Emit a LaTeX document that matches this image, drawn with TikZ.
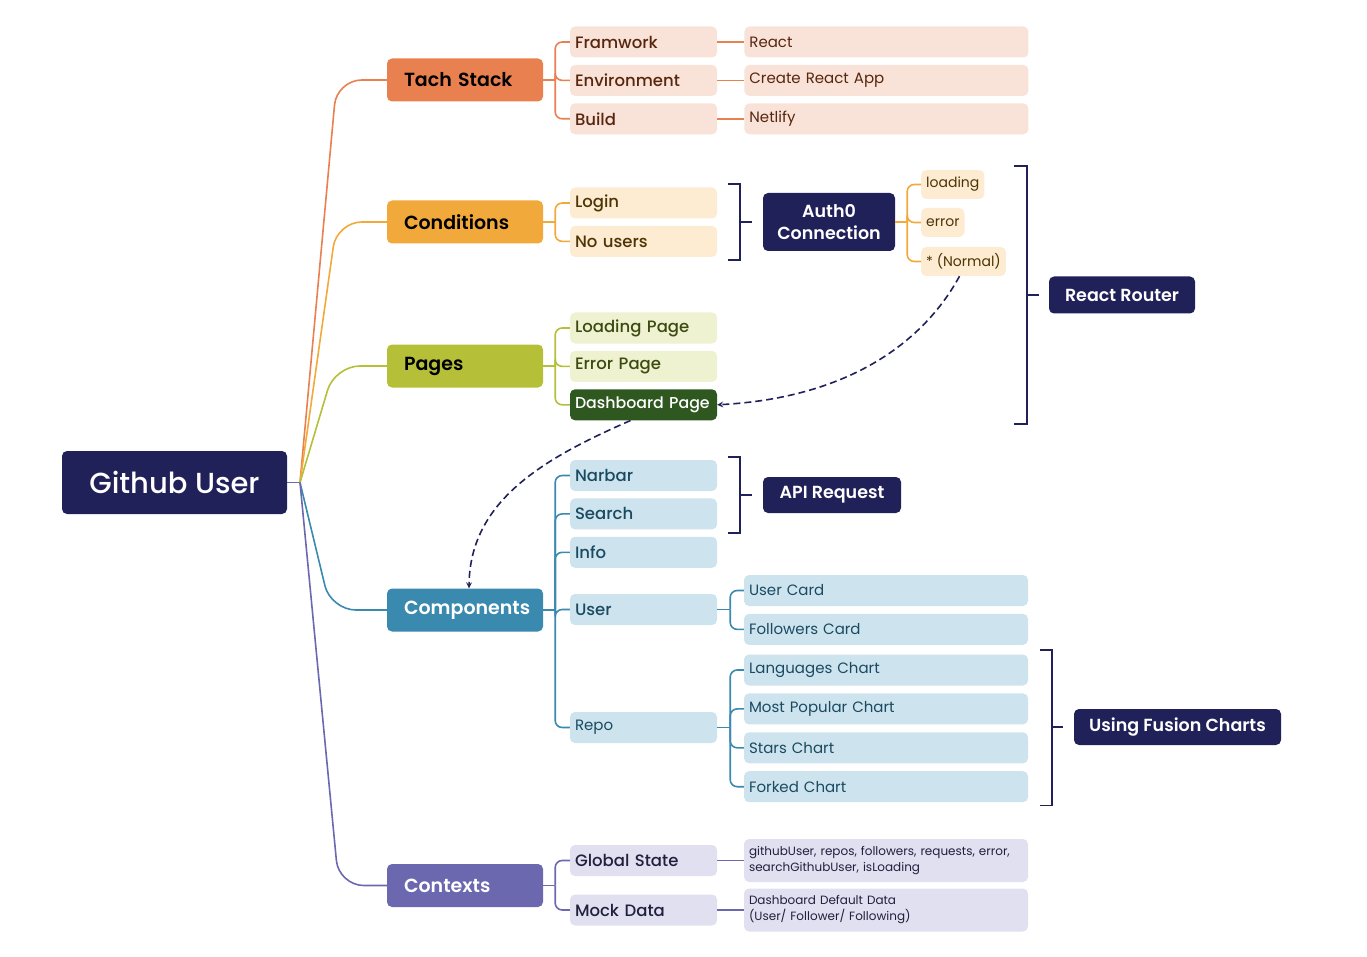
\documentclass[tikz,border=0pt]{standalone}
\usepackage{fontspec}
\setmainfont{Poppins}
\newfontfamily\medfont{Poppins}[UprightFont=* Medium]
\newfontfamily\semifont{Poppins}[UprightFont=* SemiBold]
\usetikzlibrary{positioning}

\definecolor{navy}{RGB}{33,33,90}
\definecolor{tachc}{RGB}{232,128,80}
\definecolor{tachl}{RGB}{249,227,216}
\definecolor{tacht}{RGB}{88,38,14}
\definecolor{condc}{RGB}{242,169,59}
\definecolor{condl}{RGB}{253,236,210}
\definecolor{condt}{RGB}{78,52,5}
\definecolor{pagec}{RGB}{181,191,56}
\definecolor{pagel}{RGB}{238,242,208}
\definecolor{paget}{RGB}{60,74,18}
\definecolor{pagedk}{RGB}{46,88,32}
\definecolor{compc}{RGB}{58,137,174}
\definecolor{compl}{RGB}{205,228,238}
\definecolor{compt}{RGB}{26,74,98}
\definecolor{ctxc}{RGB}{108,104,176}
\definecolor{ctxl}{RGB}{225,224,240}
\definecolor{ctxt}{RGB}{32,32,62}

\tikzset{
  box/.style={rounded corners=5pt, inner sep=0pt},
  rootbox/.style={box, fill=navy, text=white, minimum width=225pt, minimum height=63pt, font=\medfont\fontsize{29}{34}\selectfont},
  mainbox/.style={box, minimum height=43pt, text width=122pt, inner xsep=17pt, align=left, font=\semifont\fontsize{19}{22}\selectfont},
  sub/.style={box, minimum height=31pt, text width=137pt, inner xsep=5pt, align=left, font=\medfont\fontsize{16.5}{20}\selectfont},
  leaf/.style={box, minimum height=31pt, text width=274pt, inner xsep=5pt, align=left, font=\fontsize{15}{18}\selectfont},
  tag/.style={box, minimum height=29pt, inner xsep=5pt, fill=condl, text=condt, font=\fontsize{14}{17}\selectfont},
  navybox/.style={box, fill=navy, text=white, align=center, font=\semifont\fontsize{17.5}{22}\selectfont},
  tachsub/.style={sub, fill=tachl, text=tacht},
  tachleaf/.style={leaf, fill=tachl, text=tacht},
  condsub/.style={sub, fill=condl, text=condt},
  pagesub/.style={sub, fill=pagel, text=paget},
  compsub/.style={sub, fill=compl, text=compt},
  compleaf/.style={leaf, fill=compl, text=compt},
  ctxsub/.style={sub, fill=ctxl, text=ctxt},
  ctxleaf/.style={leaf, minimum height=43pt, fill=ctxl, text=ctxt, font=\fontsize{12}{16}\selectfont},
  trunk/.style={line width=1.6pt, rounded corners=25pt},
  twig/.style={line width=1.6pt, rounded corners=7pt},
  brak/.style={navy, line width=1.8pt},
  jump/.style={navy, line width=1.6pt, dash pattern=on 7pt off 4pt, -stealth},
}

\begin{document}
\begin{tikzpicture}[x=1pt,y=-1pt]
\useasboundingbox (0,0) rectangle (1367,957);

\node[rootbox] (gu) at (174.5,482.5) {Github User};
\coordinate (gj) at (300,482.5);

\node[mainbox, fill=tachc] (tach) at (465,80) {Tach Stack};
\node[mainbox, fill=condc] (cond) at (465,222) {Conditions};
\node[mainbox, fill=pagec] (pages) at (465,366) {Pages};
\node[mainbox, fill=compc, text=white] (comp) at (465,610) {Components};
\node[mainbox, fill=ctxc, text=white] (ctx) at (465,885.5) {Contexts};

\draw[ctxc, line width=1.6pt] (gu.east) -- (gj);
\draw[trunk, tachc] (gj) -- ([xshift=-50pt]tach.west) -- (tach.west);
\draw[trunk, condc] (gj) -- ([xshift=-50pt]cond.west) -- (cond.west);
\draw[trunk, pagec] (gj) -- ([xshift=-52pt]pages.west) -- (pages.west);
\draw[trunk, compc] (gj) -- ([xshift=-56pt]comp.west) -- (comp.west);
\draw[trunk, ctxc] (gj) -- ([xshift=-48pt]ctx.west) -- (ctx.west);

% tach stack
\node[tachsub] (fw) at (643.5,42) {Framwork};
\node[tachsub, below=7pt of fw] (env) {Environment};
\node[tachsub, below=7pt of env] (build) {Build};
\node[tachleaf, right=27pt of fw] (react) {React};
\node[tachleaf, right=27pt of env] (cra) {Create React App};
\node[tachleaf, right=27pt of build] (netl) {Netlify};
\coordinate (tj) at ([xshift=12pt]tach.east);
\draw[twig, tachc] (tach.east) -- (tj);
\foreach \n in {fw,env,build} \draw[twig, tachc] (tj) |- (\n.west);
\foreach \a/\b in {fw/react,env/cra,build/netl} \draw[twig, tachc] (\a.east) -- (\b.west);

% conditions
\node[condsub] (login) at (643.5,203) {Login};
\node[condsub, below=7pt of login] (nous) {No users};
\coordinate (cj) at ([xshift=12pt]cond.east);
\draw[twig, condc] (cond.east) -- (cj);
\foreach \n in {login,nous} \draw[twig, condc] (cj) |- (\n.west);
\draw[brak] ([xshift=11pt,yshift=3pt]login.north east) -| ([xshift=23pt,yshift=-3pt]nous.south east) -- ([xshift=11pt,yshift=-3pt]nous.south east);

\node[navybox, minimum width=132pt, minimum height=58pt] (auth) at (829,222) {Auth0\\Connection};
\draw[brak] (auth.west) ++(-11,0) -- ++(-12,0);
\node[tag, anchor=west] (ld) at (921,184.5) {loading};
\node[tag, anchor=west] (er) at (921,222.5) {error};
\node[tag, anchor=west] (nm) at (921,261.5) {* (Normal)};
\coordinate (aj) at ([xshift=12pt]auth.east);
\draw[twig, condc] (auth.east) -- (aj);
\foreach \n in {ld,er,nm} \draw[twig, condc] (aj) |- (\n.west);

\node[navybox, minimum width=146pt, minimum height=37pt] (rr) at (1122,295) {React Router};
\draw[brak] (1014,166) -- (1027,166) -- (1027,424) -- (1014,424);
\draw[brak] (rr.west) ++(-10,0) -- ++(-12,0);

% pages
\node[pagesub] (lp) at (643.5,328) {Loading Page};
\node[pagesub, below=7pt of lp] (ep) {Error Page};
\node[pagesub, below=7pt of ep, fill=pagedk, text=white, font=\medfont\fontsize{15.8}{20}\selectfont] (dp) {Dashboard Page};
\coordinate (pj) at ([xshift=12pt]pages.east);
\draw[twig, pagec] (pages.east) -- (pj);
\foreach \n in {lp,ep,dp} \draw[twig, pagec] (pj) |- (\n.west);

\draw[jump] ([xshift=-4pt]nm.south) .. controls (922,345) and (845,398) .. (dp.east);
\draw[jump] ([xshift=-13pt]dp.south) .. controls (545,458) and (470,500) .. ([xshift=4pt]comp.north);

% components
\node[compsub] (nb) at (643.5,475.5) {Narbar};
\node[compsub, below=7pt of nb] (sr) {Search};
\node[compsub, below=7pt of sr] (inf) {Info};
\node[compsub] (us) at (643.5,609.5) {User};
\node[compsub, font=\fontsize{15}{18}\selectfont] (repo) at (643.5,727.5) {Repo};
\coordinate (oj) at ([xshift=12pt]comp.east);
\draw[twig, compc] (comp.east) -- (oj);
\foreach \n in {nb,sr,inf,us,repo} \draw[twig, compc] (oj) |- (\n.west);
\draw[brak] ([xshift=11pt,yshift=3pt]nb.north east) -| ([xshift=23pt,yshift=-3pt]sr.south east) -- ([xshift=11pt,yshift=-3pt]sr.south east);
\node[navybox, minimum width=138pt, minimum height=36pt] (api) at (832,495) {API Request};
\draw[brak] (api.west) ++(-11,0) -- ++(-12,0);

\node[compleaf] (uc) at (886,590.5) {User Card};
\node[compleaf, below=7.5pt of uc] (fc) {Followers Card};
\coordinate (uj) at ([xshift=13pt]us.east);
\draw[twig, compc] (us.east) -- (uj);
\foreach \n in {uc,fc} \draw[twig, compc] (uj) |- (\n.west);

\node[compleaf] (lc) at (886,670) {Languages Chart};
\node[compleaf, below=7.5pt of lc] (mp) {Most Popular Chart};
\node[compleaf, below=7.5pt of mp] (stc) {Stars Chart};
\node[compleaf, below=7.5pt of stc] (fk) {Forked Chart};
\coordinate (rj) at ([xshift=13pt]repo.east);
\draw[twig, compc] (repo.east) -- (rj);
\foreach \n in {lc,mp,stc,fk} \draw[twig, compc] (rj) |- (\n.west);
\draw[brak] ([xshift=12pt,yshift=4pt]lc.north east) -| ([xshift=24pt,yshift=-3pt]fk.south east) -- ([xshift=12pt,yshift=-3pt]fk.south east);
\node[navybox, minimum width=207pt, minimum height=36pt] (ufc) at (1177.5,727) {Using Fusion Charts};
\draw[brak] (ufc.west) ++(-11,0) -- ++(-11,0);

% contexts
\node[ctxsub] (gs) at (643.5,860.5) {Global State};
\node[ctxsub] (md) at (643.5,910) {Mock Data};
\coordinate (xj) at ([xshift=12pt]ctx.east);
\draw[twig, ctxc] (ctx.east) -- (xj);
\foreach \n in {gs,md} \draw[twig, ctxc] (xj) |- (\n.west);
\node[ctxleaf] (gsl) at (886,860.5) {githubUser, repos, followers, requests, error,\\searchGithubUser, isLoading};
\node[ctxleaf] (mdl) at (886,910) {Dashboard Default Data\\(User/ Follower/ Following)};
\draw[twig, ctxc] (gs.east) -- (gsl.west);
\draw[twig, ctxc] (md.east) -- (mdl.west);
\end{tikzpicture}
\end{document}
